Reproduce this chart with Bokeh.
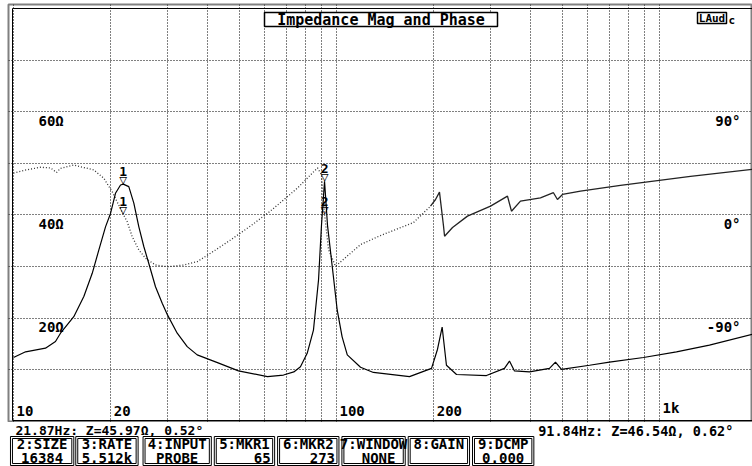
from bokeh.plotting import figure
from bokeh.layouts import column
from bokeh.models import Range1d, Grid, FixedTicker, Label, BoxAnnotation
from bokeh.core.properties import value
from bokeh.embed import file_html
from bokeh.resources import INLINE

# |Z| sweep: frequency (Hz) and magnitude (ohm)
freq_z = [10.0, 10.9, 12.56, 13.49, 13.98, 15.37, 16.51, 17.53, 18.37, 19.27, 19.97,
          20.69, 21.45, 21.87, 22.75, 23.58, 24.44, 25.32, 26.24, 27.52, 28.87, 30.0,
          32.13, 34.5, 37.05, 42.8, 49.73, 61.14, 68.54, 73.77, 77.35, 81.15, 84.86,
          87.98, 89.86, 91.84, 93.8, 98.1, 100.5, 104.1, 108.0, 118.7, 130.1, 168.3,
          196.9, 205.5, 212.4, 219.0, 235.3, 291.3, 331.2, 343.2, 355.7, 395.9, 456.5,
          476.4, 497.3, 607.3, 700.1, 892.4, 1128.8, 1428.0, 1941.0]
mag_z = [12.4, 13.5, 14.2, 15.5, 17.1, 20.3, 24.2, 28.7, 33.2, 37.7, 40.3,
         44.2, 45.8, 45.97, 45.5, 42.3, 37.7, 33.9, 30.6, 26.1, 22.9, 20.6,
         17.1, 14.5, 12.9, 11.4, 9.8, 8.7, 9.0, 9.6, 10.6, 13.2, 17.7,
         27.4, 38.0, 46.54, 38.0, 27.4, 21.6, 16.4, 12.9, 10.5, 9.5, 8.7,
         10.3, 14.0, 18.3, 10.9, 9.1, 8.9, 10.3, 11.7, 9.8, 9.6, 10.3,
         11.5, 10.1, 10.9, 11.5, 12.4, 13.5, 14.8, 16.9]

# phase (deg), low band (sparse bins, dotted) and upper band (solid)
freq_ph_lo = [10.0, 10.9, 12.12, 13.02, 13.6, 13.98, 15.37, 17.73, 19.04, 20.21, 21.87,
              22.49, 23.31, 24.44, 25.63, 27.52, 30.0, 33.67, 37.05, 42.2, 46.97, 54.18,
              62.47, 68.54, 75.72, 83.07, 87.35, 89.86, 91.84, 94.46, 99.3, 118.7, 136.9,
              173.1, 195.5]
phase_lo = [36.6, 39.2, 41.6, 41.0, 37.1, 40.7, 43.6, 39.2, 32.0, 20.3, 0.52,
            -5.8, -18.9, -30.5, -37.7, -43.6, -45.1, -43.6, -40.7, -30.5, -21.8, -9.6,
            3.5, 13.1, 23.5, 34.9, 41.0, 35.0, 0.62, -30.0, -44.7, -25.8, -17.9,
            -6.6, 7.7]
freq_ph_hi = [195.5, 202.6, 208.4, 214.5, 216.1, 228.7, 254.4, 299.9, 338.4, 348.2,
              371.2, 428.1, 469.6, 483.2, 500.9, 569.4, 757.1, 1247.0, 1941.0]
phase_hi = [7.7, 13.5, 19.9, -9.8, -18.5, -10.9, -1.0, 7.7, 16.4, 3.3,
            12.1, 15.0, 19.4, 13.5, 17.9, 20.8, 25.8, 33.6, 39.8]

# cursor markers
marker_ids = ["1", "2"]
marker_bins = [65, 273]
marker_freq = [21.87, 91.84]
marker_mag = [45.97, 46.54]
marker_phase = [0.52, 0.62]

# grid and tick labels
grid_freqs = [10, 20, 30, 40, 50, 60, 70, 80, 90, 100, 200, 300, 400, 500, 600, 700, 800, 900, 1000]
grid_ohms = [10, 20, 30, 40, 50, 60, 70]
freq_tick_vals = [10, 20, 100, 200, 1000]
freq_tick_text = ["10", "20", "100", "200", "1k"]
ohm_tick_vals = [60, 40, 20]
ohm_tick_text = ["60\u03a9", "40\u03a9", "20\u03a9"]
deg_tick_vals = [90, 0, -90]
deg_tick_text = ["90\u00b0", "0\u00b0", "-90\u00b0"]

# function-key panel
key_labels = ["2:SIZE", "3:RATE", "4:INPUT", "5:MKR1", "6:MKR2", "7:WINDOW", "8:GAIN", "9:DCMP"]
key_values = ["16384", "5.512k", "PROBE", str(marker_bins[0]), str(marker_bins[1]), "NONE", "", "0.000"]

FONT_NAME = "DejaVu Sans Mono"
gtxt = dict(text_font=value(FONT_NAME), text_font_style="bold", text_color="black")
ltxt = dict(text_font=FONT_NAME, text_font_style="bold", text_color="black")
CANVAS = dict(left_units="canvas", right_units="canvas", top_units="canvas", bottom_units="canvas")

# frequency span of the frame (log), magnitude span (ohm), phase span tied to it
X0, X1 = 9.65, 1941.0
Y0, Y1 = -0.194, 80.77
PH0, PH1 = 4.5 * (Y0 - 40), 4.5 * (Y1 - 40)

p = figure(width=752, height=422, x_axis_type="log",
           x_range=Range1d(X0, X1), y_range=Range1d(Y0, Y1),
           x_axis_location=None, y_axis_location=None,
           min_border_left=8, min_border_right=0, min_border_top=4, min_border_bottom=0,
           toolbar_location=None, output_backend="svg",
           outline_line_color="#808080", outline_line_width=2,
           background_fill_color="white", border_fill_color="white")
p.extra_y_ranges = {"phase": Range1d(PH0, PH1)}
p.grid.visible = False

dot = dict(grid_line_color="black", grid_line_dash="1 2", grid_line_width=1, grid_line_alpha=1)
p.add_layout(Grid(dimension=0, ticker=FixedTicker(ticks=grid_freqs), **dot))
p.add_layout(Grid(dimension=1, ticker=FixedTicker(ticks=grid_ohms), **dot))

# inner frame line
p.add_layout(BoxAnnotation(left=12, right=900, top=8, bottom=420, fill_alpha=0,
                           line_color="black", line_alpha=1, line_width=1, **CANVAS))

# curves
p.line(freq_ph_lo, phase_lo, y_range_name="phase", line_color="#333333",
       line_dash="1 2", line_width=1.3)
p.line(freq_ph_hi, phase_hi, y_range_name="phase", line_color="#222222", line_width=1.3)
p.line(freq_z, mag_z, line_color="black", line_width=1.2)

# tick labels drawn inside the frame
p.text(x=freq_tick_vals, y=[0] * len(freq_tick_vals), text=freq_tick_text,
       x_offset=3, y_offset=-5, text_font_size="14px", text_baseline="bottom",
       text_align="left", **gtxt)
p.text(x=[X0] * len(ohm_tick_vals), y=ohm_tick_vals, text=ohm_tick_text,
       x_offset=30, y_offset=1, text_font_size="14px", text_baseline="top",
       text_align="left", **gtxt)
p.text(x=[X1] * len(deg_tick_vals), y=deg_tick_vals, text=deg_tick_text,
       y_range_name="phase", x_offset=-12, y_offset=1, text_font_size="14px",
       text_baseline="top", text_align="right", **gtxt)

# cursor markers on magnitude and phase
for ys, rng in ((marker_mag, "default"), (marker_phase, "phase")):
    p.text(x=marker_freq, y=ys, text=["\u25bd"] * len(marker_freq), y_range_name=rng,
           y_offset=3, text_font_size="13px", text_baseline="bottom", text_align="center",
           **gtxt)
    p.text(x=marker_freq, y=ys, text=marker_ids, y_range_name=rng,
           y_offset=-8, text_font_size="13px", text_baseline="bottom", text_align="center",
           **gtxt)

# title box
p.add_layout(BoxAnnotation(left=264, right=497, top=12, bottom=26, fill_color="white",
                           fill_alpha=1, line_color="black", line_alpha=1, line_width=1.5, **CANVAS))
p.add_layout(Label(x=380.5, y=19.5, x_units="canvas", y_units="canvas",
                   text="Impedance Mag and Phase", text_align="center", text_baseline="middle",
                   text_font_size="15px", **ltxt))

# logo
p.add_layout(BoxAnnotation(left=697, right=726, top=12, bottom=23, fill_color="white",
                           fill_alpha=1, line_color="black", line_alpha=1, line_width=1.5, **CANVAS))
p.add_layout(Label(x=711.5, y=17.5, x_units="canvas", y_units="canvas", text="LAud",
                   text_align="center", text_baseline="middle", text_font_size="11px", **ltxt))
p.add_layout(Label(x=728, y=20, x_units="canvas", y_units="canvas", text="c",
                   text_align="left", text_baseline="middle", text_font_size="11px", **ltxt))

# status panel below the graph: cursor readouts and function keys
q = figure(width=752, height=44, x_range=Range1d(0, 752), y_range=Range1d(466, 422),
           x_axis_location=None, y_axis_location=None, min_border=0,
           toolbar_location=None, output_backend="svg", outline_line_color=None,
           background_fill_color="white", border_fill_color="white")
q.grid.visible = False

q.text(x=[7], y=[430],
       text=[f"{marker_freq[0]:.2f}Hz: Z={marker_mag[0]:.2f}\u03a9, {marker_phase[0]:.2f}\u00b0"],
       text_align="left", text_baseline="middle", text_font_size="13px", **gtxt)
q.text(x=[749], y=[430],
       text=[f"{marker_freq[1]:.2f}Hz:  Z={marker_mag[1]:.2f}\u03a9,  {marker_phase[1]:.2f}\u00b0"],
       text_align="right", text_baseline="middle", text_font_size="13.5px", **gtxt)

box_edges = [(2, 66), (68, 131), (136, 205), (208, 269), (272, 334), (337, 401), (404, 466), (469, 531)]
lefts = [l for l, r in box_edges]
rights = [r for l, r in box_edges]
for inset in (0, 2):
    q.quad(left=[l + inset for l in lefts], right=[r - inset for r in rights],
           top=[436 + inset] * len(lefts), bottom=[465 - inset] * len(lefts),
           fill_alpha=0, line_color="black", line_width=1)
q.text(x=[(l + r) / 2 for l, r in box_edges], y=[443.5] * len(lefts), text=key_labels,
       text_align="center", text_baseline="middle", text_font_size="14px", **gtxt)
value_align = ["center", "center", "center", "right", "right", "left", "center", "center"]
value_x = [{"center": (l + r) / 2, "right": r - 4, "left": l + 20}[al]
           for (l, r), al in zip(box_edges, value_align)]
q.text(x=value_x, y=[457.5] * len(lefts), text=key_values, text_align=value_align,
       text_baseline="middle", text_font_size="14px", **gtxt)

layout = column(p, q, spacing=0)
open("out.html", "w").write(file_html(layout, INLINE))
